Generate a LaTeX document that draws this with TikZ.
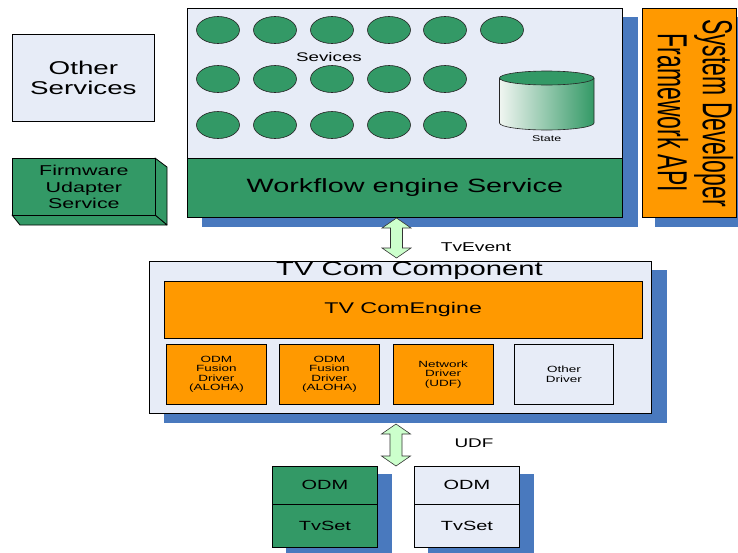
\documentclass[tikz,border=0pt]{standalone}
\usepackage{fontspec}
\setmainfont[FakeStretch=1.5]{Liberation Sans}
\newfontfamily\apifont{Liberation Sans}
\usetikzlibrary{shapes.geometric,backgrounds}
\definecolor{paneFill}{RGB}{231,236,247}
\definecolor{svcGreen}{RGB}{51,153,102}
\definecolor{engOrange}{RGB}{255,153,0}
\definecolor{shadowBlue}{RGB}{73,121,190}
\definecolor{linkGreen}{RGB}{204,255,204}
\definecolor{cylLight}{RGB}{240,245,241}
\newcommand\fsz[2]{\fontsize{#1}{#2}\selectfont}
% fat double-headed link: start tip, shaft length
\newcommand\fatlink[2]{%
  \draw[link] (#1) -- ++(14.5,10) -- ++(-8.5,0) -- ++(0,#2) -- ++(8.5,0)
    -- ++(-14.5,10) -- ++(-14.5,-10) -- ++(8.5,0) -- ++(0,-#2) -- ++(-8.5,0) -- cycle;}
\begin{document}
\begin{tikzpicture}[x=1pt,y=-1pt,
  box/.style={draw=black, line width=0.8pt, rectangle, anchor=north west,
    inner sep=0pt, align=center},
  pane/.style={box, fill=paneFill},
  greenbox/.style={box, fill=svcGreen},
  orangebox/.style={box, fill=engOrange},
  svc/.style={ellipse, draw=black!85, line width=0.6pt, fill=svcGreen,
    minimum width=43pt, minimum height=27pt, inner sep=0pt},
  link/.style={draw=black!80, line width=0.6pt, fill=linkGreen, line join=miter},
  label/.style={inner sep=0pt},
  shadowfill/.style={fill=shadowBlue},
  drvtext/.style={font=\fsz{9}{9.5}}]
\useasboundingbox (0,0) rectangle (738,552);

% ---- left column
\node[pane, minimum width=142pt, minimum height=87pt, font=\fsz{18.5}{20}]
  (other) at (12,34) {Other\\Services};

\fill[svcGreen, draw=black, line width=0.8pt, line join=round]
  (155,158) -- (167,167) -- (167,225) -- (155,215) -- cycle;
\fill[svcGreen, draw=black, line width=0.8pt, line join=round]
  (12,215) -- (155,215) -- (167,225) -- (20,225) -- cycle;
\node[greenbox, minimum width=143pt, minimum height=57pt, font=\fsz{14.3}{16.3}]
  (fw) at (12,158) {Firmware\\Udapter\\Service};

% ---- workflow engine
\node[pane, minimum width=435pt, minimum height=209pt] (wf) at (187,8) {};
\node[greenbox, minimum width=435pt, minimum height=59pt, font=\fsz{19.2}{21}]
  (wfeng) at (187,158) {Workflow engine Service};

\foreach \c/\x in {1/218,2/275,3/332,4/389,5/445,6/502}
  \node[svc] (s1-\c) at (\x,30) {};
\foreach \r/\y in {2/79,3/125}
  \foreach \c/\x in {1/218,2/275,3/332,4/389,5/445}
    \node[svc] (s\r-\c) at (\x,\y) {};
\node[label, font=\fsz{12.5}{14}] (svclbl) at (329,57) {Sevices};

% state store
\coordinate (state) at (546.75,78);
\shade[left color=cylLight, right color=svcGreen]
  (499.5,78) -- (499.5,123) arc[start angle=180, end angle=0, x radius=47.25, y radius=7]
  -- (594,78) -- cycle;
\draw[black!85, line width=0.6pt]
  (499.5,78) -- (499.5,123) arc[start angle=180, end angle=0, x radius=47.25, y radius=7]
  -- (594,78);
\filldraw[fill=svcGreen, draw=black!85, line width=0.6pt] (state) ellipse[x radius=47.25, y radius=7];
\node[label, font=\fsz{8.3}{9}] (statelbl) at (546.7,139) {State};

% ---- framework API
\node[orangebox, minimum width=94pt, minimum height=209pt] (api) at (642,8) {};
\node[label, rotate=-90, align=center] (apitxt) at (api.center)
  {\scalebox{0.82}[1.5]{\apifont\fsz{28}{30}\begin{tabular}{@{}c@{}}System Developer\\Framework API\end{tabular}}};

% ---- TV Com component
\node[pane, minimum width=502pt, minimum height=152pt] (tvc) at (149,261) {};
\node[label, font=\fsz{19.5}{21}] (tvctitle) at (409.5,271) {TV Com Component};
\node[orangebox, minimum width=478.5pt, minimum height=57pt, font=\fsz{15.5}{17}]
  (eng) at (163.5,281) {TV ComEngine};
\node[orangebox, minimum width=100pt, minimum height=60pt, drvtext]
  (d1) at (166,344) {ODM\\Fusion\\Driver\\(ALOHA)};
\node[orangebox, minimum width=100pt, minimum height=60pt, drvtext]
  (d2) at (279,344) {ODM\\Fusion\\Driver\\(ALOHA)};
\node[orangebox, minimum width=99.5pt, minimum height=60pt, drvtext]
  (d3) at (393,344) {Network\\Driver\\(UDF)};
\node[pane, minimum width=99pt, minimum height=60pt, drvtext]
  (d4) at (514,344) {Other\\Driver};

% ---- TV sets
\node[greenbox, minimum width=105pt, minimum height=38pt, font=\fsz{13.3}{14}]
  (odmA) at (272,466) {ODM};
\node[greenbox, minimum width=105pt, minimum height=43pt, font=\fsz{13.3}{14}]
  (tvsA) at (272,504) {TvSet};
\node[pane, minimum width=105pt, minimum height=38pt, font=\fsz{13.3}{14}]
  (odmB) at (414,466) {ODM};
\node[pane, minimum width=105pt, minimum height=43pt, font=\fsz{13.3}{14}]
  (tvsB) at (414,504) {TvSet};

% ---- page background and drop shadows
\begin{scope}[on background layer]
  \fill[white] (0,0) rectangle (738,552);
  \fill[shadowfill] ([shift={(15,9)}]wf.north west) rectangle ([shift={(15,9)}]wf.south east);
  \fill[shadowfill] ([shift={(13,9)}]api.north west) rectangle ([shift={(13,9)}]api.south east);
  \fill[shadowfill] ([shift={(15,9)}]tvc.north west) rectangle ([shift={(15,9)}]tvc.south east);
  \fill[shadowfill] ([shift={(14,8)}]odmA.north west) rectangle ([shift={(14,8)}]tvsA.south east);
  \fill[shadowfill] ([shift={(14,8)}]odmB.north west) rectangle ([shift={(14,8)}]tvsB.south east);
\end{scope}

% ---- links
\coordinate (evtTop) at (396.5,218);
\fatlink{evtTop}{20}
\node[label, font=\fsz{12.8}{14}] (evtlbl) at (476,247) {TvEvent};
\coordinate (udfTop) at (396,424);
\fatlink{udfTop}{22}
\node[label, font=\fsz{12.6}{14}] (udflbl) at (474,443) {UDF};
\end{tikzpicture}
\end{document}
